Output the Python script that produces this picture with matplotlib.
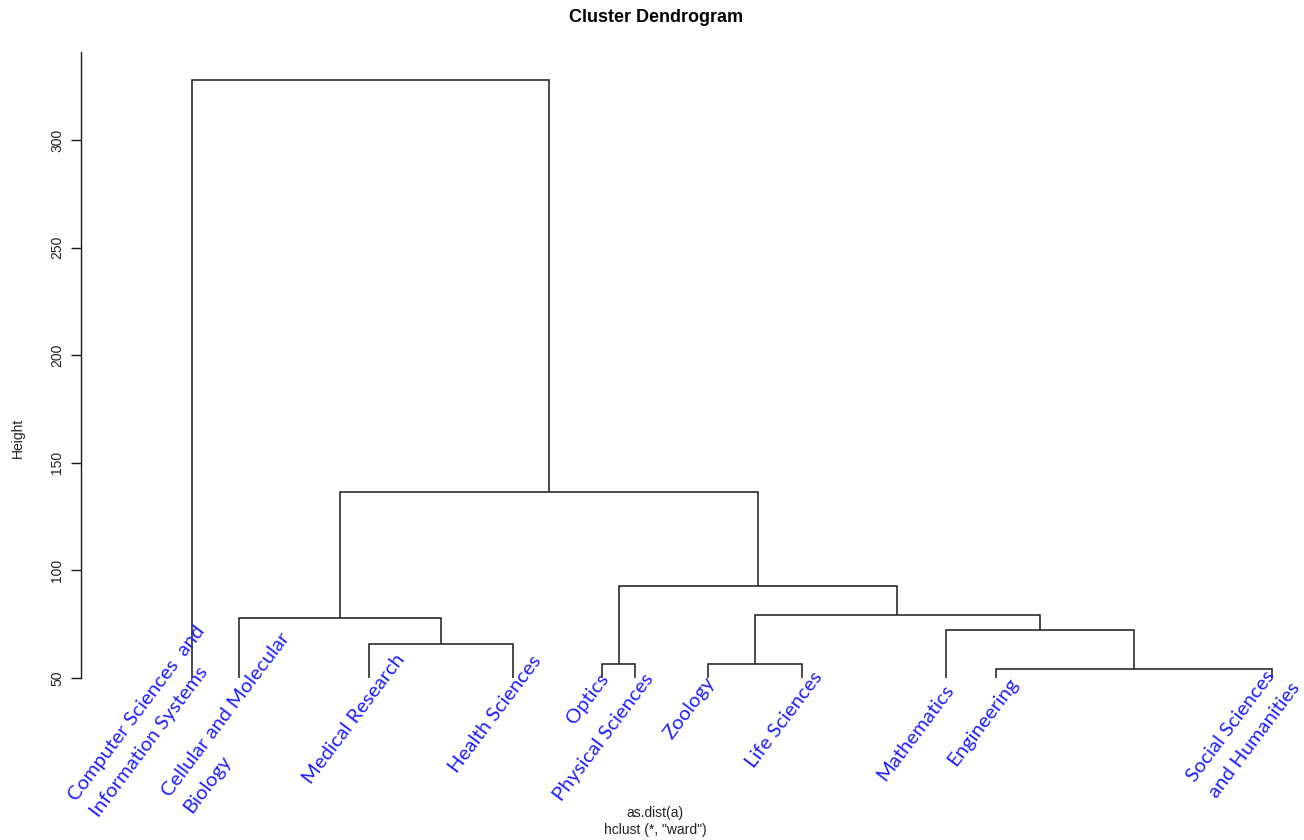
import math
import matplotlib
matplotlib.use("Agg")
import matplotlib.pyplot as plt

# ---- data ---------------------------------------------------------------
labels = [
    "Computer Sciences  and\nInformation Systems",
    "Cellular and Molecular\nBiology",
    "Medical Research",
    "Health Sciences",
    "Optics",
    "Physical Sciences",
    "Zoology",
    "Life Sciences",
    "Mathematics",
    "Engineering",
    "Social Sciences\nand Humanities",
]
# horizontal position of each leaf (dendrogram order)
leaf_x = [1.000, 1.438, 2.636, 3.975, 4.799, 5.102, 5.775, 6.645, 7.981, 8.444, 11.0]
# merge table in hclust convention: negative = leaf (1-based), positive = earlier merge
merge_left = [-10, -5, -7, -3, -9, -2, 3, 2, 6, -1]
merge_right = [-11, -6, -8, -4, 1, 4, 5, 7, 8, 9]
merge_height = [54.2, 56.4, 56.3, 65.9, 72.3, 78.0, 79.5, 92.7, 136.3, 328.2]
y_ticks = [50, 100, 150, 200, 250, 300]

# ---- styling / layout ---------------------------------------------------
LINE = "#1a1a1a"
LABEL_BLUE = "#1f1fff"
AXIS_FONT = "Liberation Sans"
LEAF_FONT = ["Lato", "DejaVu Sans"]
ROT = 53            # label angle, degrees
LINE_GAP = 27       # pixels between lines of a two-line label
# baseline start of each label's first line, in pixels from the leaf's foot
label_offsets = [(-115, -124), (-69, -120), (-58, -107), (-56, -96), (-28, -47),
                 (-73, -124), (-36, -62), (-48, -91), (-61, -104), (-40, -89),
                 (-77, -105)]

W, H, DPI = 1304, 840, 100
fig = plt.figure(figsize=(W / DPI, H / DPI), dpi=DPI)
ax_l, ax_r, ax_t, ax_b = 81, 1290, 52, 678
ax = fig.add_axes([ax_l / W, 1 - ax_b / H, (ax_r - ax_l) / W, (ax_b - ax_t) / H])

px_per_unit = 108.0
x0 = leaf_x[0] - (192 - ax_l) / px_per_unit
ax.set_xlim(x0, x0 + (ax_r - ax_l) / px_per_unit)
ax.set_ylim(50, 341)


def node_pos(ref, xs, hs):
    if ref < 0:
        return leaf_x[-ref - 1], 0.0
    return xs[ref - 1], hs[ref - 1]


node_x, node_h = [], []
for a, b, h in zip(merge_left, merge_right, merge_height):
    xa, ha = node_pos(a, node_x, node_h)
    xb, hb = node_pos(b, node_x, node_h)
    ax.plot([xa, xa, xb, xb], [ha, h, h, hb], color=LINE, lw=1.1,
            solid_joinstyle="miter", solid_capstyle="butt")
    node_x.append((xa + xb) / 2)
    node_h.append(h)

# size the leaf font so a reference phrase spans the wanted width
renderer = fig.canvas.get_renderer()
probe = fig.text(0, 0, "Medical Research", fontsize=15, family=LEAF_FONT)
probe_w = probe.get_window_extent(renderer).width
probe.remove()
leaf_size = 15 * 157.0 / probe_w

# leaf labels, one text per line so every line starts on its own baseline
perp = (math.sin(math.radians(ROT)) * LINE_GAP, -math.cos(math.radians(ROT)) * LINE_GAP)
for lab, x, (dx, dy) in zip(labels, leaf_x, label_offsets):
    for k, part in enumerate(lab.split("\n")):
        ax.annotate(part, xy=(x, 50), xycoords="data",
                    xytext=(dx + k * perp[0], dy + k * perp[1]),
                    textcoords="offset pixels", rotation=ROT, rotation_mode="anchor",
                    ha="left", va="baseline", color=LABEL_BLUE,
                    fontsize=leaf_size, family=LEAF_FONT, annotation_clip=False)

# axis
for s in ("top", "right", "bottom"):
    ax.spines[s].set_visible(False)
ax.spines["left"].set_color(LINE)
ax.spines["left"].set_linewidth(1.0)
ax.set_xticks([])
ax.set_yticks(y_ticks)
ax.set_yticklabels([str(t) for t in y_ticks], rotation=90, va="center",
                   family=AXIS_FONT, fontsize=10, color="#222222")
ax.tick_params(axis="y", length=7.2, width=1.0, color=LINE, pad=5)


def ax_pt(px, py):
    return (px - ax_l) / (ax_r - ax_l), (ax_b - py) / (ax_b - ax_t)


ax.text(*ax_pt(656, 18), "Cluster Dendrogram", transform=ax.transAxes,
        ha="center", va="center", fontsize=13, fontweight="bold", family=AXIS_FONT)
ax.text(*ax_pt(18, 438), "Height", transform=ax.transAxes, ha="center",
        va="center", rotation=90, fontsize=10, family=AXIS_FONT, color="#222222")
ax.text(*ax_pt(655, 813), "as.dist(a)", transform=ax.transAxes, ha="center",
        va="center", fontsize=10, family=AXIS_FONT, color="#222222")
ax.text(*ax_pt(655, 830), 'hclust (*, "ward")', transform=ax.transAxes,
        ha="center", va="center", fontsize=10, family=AXIS_FONT, color="#222222")

fig.savefig("out.png", dpi=DPI)
